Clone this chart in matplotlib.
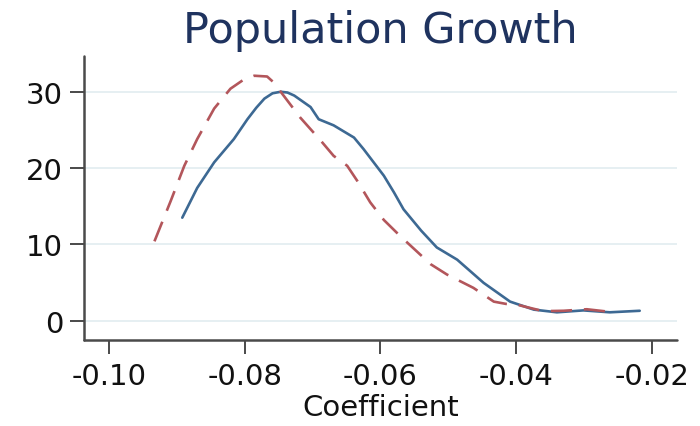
import numpy as np
import matplotlib.pyplot as plt

plt.rcParams['font.family'] = ['DejaVu Sans']
plt.rcParams['axes.unicode_minus'] = False

# kernel density of the estimated coefficient, two specifications
x_solid = [-0.0892, -0.0870, -0.0845, -0.0816, -0.0796, -0.0783, -0.0771, -0.0759,
           -0.0747, -0.0737, -0.0727, -0.0703, -0.0691, -0.0669, -0.0639, -0.0625,
           -0.0610, -0.0595, -0.0580, -0.0566, -0.0540, -0.0517, -0.0487, -0.0448,
           -0.0409, -0.0374, -0.0340, -0.0301, -0.0262, -0.0218]
y_solid = [13.5, 17.4, 20.75, 23.8, 26.4, 27.9, 29.1, 29.8,
           30.0, 29.9, 29.5, 28.0, 26.4, 25.6, 24.0, 22.5,
           20.75, 19.0, 16.8, 14.6, 11.8, 9.6, 8.0, 4.96,
           2.5, 1.45, 1.1, 1.35, 1.1, 1.3]

x_dash = [-0.0933, -0.0909, -0.0889, -0.0870, -0.0845, -0.0821, -0.0803, -0.0786,
          -0.0767, -0.0757, -0.0747, -0.0718, -0.0688, -0.0669, -0.0649, -0.0634,
          -0.0615, -0.0595, -0.0571, -0.0526, -0.0502, -0.0463, -0.0433, -0.0415,
          -0.0399, -0.0360, -0.0330, -0.0296, -0.0256]
y_dash = [10.4, 15.7, 20.3, 23.8, 27.8, 30.4, 31.5, 32.1,
          32.0, 31.2, 30.0, 26.6, 23.6, 21.6, 20.3, 18.3,
          15.5, 13.2, 11.1, 7.4, 6.05, 4.3, 2.5, 2.2,
          2.1, 1.25, 1.3, 1.5, 1.1]

xticks = [-0.10, -0.08, -0.06, -0.04, -0.02]
yticks = [0, 10, 20, 30]

fig = plt.figure(figsize=(7, 4.27), dpi=100)
ax = fig.add_axes([0.12, 0.2014, 0.847, 0.665])

for yt in yticks:
    ax.axhline(yt, color='#e4eef1', lw=1.3, zorder=0)

ax.plot(x_solid, y_solid, color='#3d6993', lw=1.9, solid_capstyle='round',
        solid_joinstyle='round')
ax.plot(x_dash, y_dash, color='#b3565b', lw=1.9, dashes=(8, 4.5),
        dash_joinstyle='round')

ax.set_xlim(-0.10368, -0.01632)
ax.set_ylim(-2.53, 34.68)
ax.set_xticks(xticks)
ax.set_xticklabels(['%.2f' % v for v in xticks])
ax.set_yticks(yticks)

for side in ['top', 'right']:
    ax.spines[side].set_visible(False)
for side in ['left', 'bottom']:
    ax.spines[side].set_color('#4a4a4a')
    ax.spines[side].set_linewidth(1.8)
    ax.spines[side].set_capstyle('round')

ax.tick_params(axis='both', labelsize=21, length=10, width=1.4, color='#4a4a4a',
               labelcolor='#111111')
ax.tick_params(axis='x', pad=6)
ax.tick_params(axis='y', pad=5)
ax.set_xlabel('Coefficient', fontsize=21, labelpad=2, color='#111111')
ax.set_title('Population Growth', fontsize=31, color='#1f335f', pad=10)

fig.savefig('out.png', dpi=100)
